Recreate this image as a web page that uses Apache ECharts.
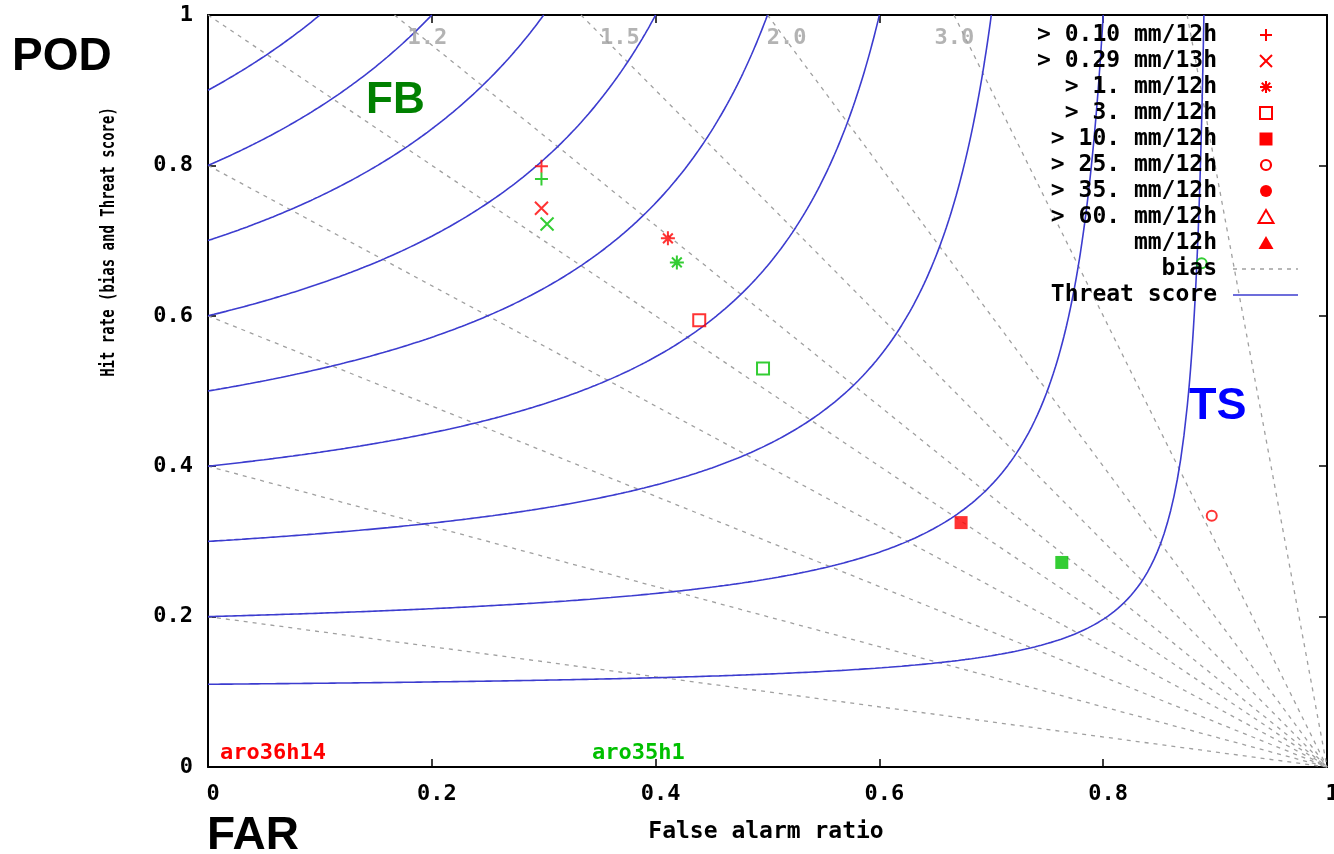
<!DOCTYPE html>
<html><head><meta charset="utf-8">
<script src="https://cdn.jsdelivr.net/npm/echarts@6/dist/echarts.min.js"></script>
<style>html,body{margin:0;padding:0;background:#fff;overflow:hidden;width:1334px;height:854px}#c{width:1334px;height:854px}</style>
</head><body><div id="c"></div>
<script>
// ---- data ----
const xTicks = ['0', '0.2', '0.4', '0.6', '0.8', '1'];
const yTicks = ['0', '0.2', '0.4', '0.6', '0.8', '1'];
const thresholdLabels = ['> 0.10 mm/12h', '> 0.29 mm/13h', '> 1. mm/12h', '> 3. mm/12h', '> 10. mm/12h', '> 25. mm/12h', '> 35. mm/12h', '> 60. mm/12h', 'mm/12h'];
const aro36h14FAR = [0.298, 0.298, 0.411, 0.439, 0.673, 0.897, null, null, null];
const aro36h14POD = [0.799, 0.743, 0.703, 0.594, 0.325, 0.334, null, null, null];
const aro35h1FAR = [0.298, 0.303, 0.419, 0.496, 0.763, 0.888, null, null, null];
const aro35h1POD = [0.782, 0.722, 0.671, 0.530, 0.272, 0.670, null, null, null];
const biasLevels = [0.2, 0.4, 0.6, 0.8, 1.0, 1.2, 1.5, 2.0, 3.0, 8.0];
const biasLabelText = ['1.2', '1.5', '2.0', '3.0'];
const biasLabelFAR = [0.196, 0.368, 0.517, 0.667];
const biasLabelPOD = [0.969, 0.969, 0.969, 0.969];
const tsLevels = [0.11, 0.2, 0.3, 0.4, 0.5, 0.6, 0.7, 0.8, 0.9];

// ---- styles ----
const RED = '#ff0000', GREEN = '#00c000', BLUE = '#3c3ccf', GRAY = '#a0a0a0';
const MONO = 'DejaVu Sans Mono';
const SANS = 'Liberation Sans';
const symbolKinds = ['plus', 'cross', 'star', 'orect', 'frect', 'ocirc', 'fcirc', 'otri', 'ftri'];
const symDef = {
  plus:  { symbol: 'path://M0,6H12M6,0V12', size: 13, fill: false },
  cross: { symbol: 'path://M0,0L12,12M12,0L0,12', size: 13, fill: false },
  star:  { symbol: 'path://M0,6H12M6,0V12M1.8,1.8L10.2,10.2M10.2,1.8L1.8,10.2', size: 14, fill: false },
  orect: { symbol: 'rect', size: 12, fill: false },
  frect: { symbol: 'rect', size: 13, fill: true },
  ocirc: { symbol: 'circle', size: 10, fill: false },
  fcirc: { symbol: 'circle', size: 11, fill: true },
  otri:  { symbol: 'triangle', size: 13, fill: false },
  ftri:  { symbol: 'triangle', size: 13, fill: true }
};

function modelData(fars, pods, color) {
  const out = [];
  for (let i = 0; i < fars.length; i++) {
    if (fars[i] == null) continue;
    const d = symDef[symbolKinds[i]];
    out.push({
      value: [fars[i], pods[i]],
      symbol: d.symbol, symbolSize: d.size,
      itemStyle: d.fill ? { color: color, borderColor: color, borderWidth: 0 }
                        : { color: 'none', borderColor: color, borderWidth: 2 }
    });
  }
  return out;
}

function tsCurve(ts) {
  const pts = [];
  const farMax = 1 - ts;
  for (let i = 0; i <= 300; i++) {
    const far = farMax * i / 300;
    const pod = 1 / (1 / ts + 1 - 1 / (1 - far));
    if (pod <= 1) pts.push([far, pod]);
  }
  for (let j = 0; j <= 200; j++) {
    const pod = 0.5 + 0.5 * j / 200;
    const D = 1 / ts + 1 - 1 / pod;
    if (D <= 0) continue;
    const far = 1 - 1 / D;
    if (far >= 0) pts.push([far, pod]);
  }
  pts.sort((a, b) => a[0] - b[0]);
  return pts;
}
function biasLine(b) {
  return b <= 1 ? [[0, b], [1, 0]] : [[1 - 1 / b, 1], [1, 0]];
}

const series = [];
biasLevels.forEach(b => series.push({
  type: 'line', data: biasLine(b), showSymbol: false, silent: true, animation: false,
  lineStyle: { color: GRAY, width: 1.3, type: [4, 5] }, z: 1
}));
tsLevels.forEach(t => series.push({
  type: 'line', data: tsCurve(t), showSymbol: false, silent: true, animation: false,
  lineStyle: { color: BLUE, width: 1.6 }, z: 2
}));
series.push({
  type: 'scatter', symbolSize: 0, silent: true, animation: false, z: 3,
  data: biasLabelFAR.map((f, i) => ({ value: [f, biasLabelPOD[i]], name: biasLabelText[i] })),
  label: { show: true, position: 'inside', formatter: p => p.name, color: GRAY,
           fontFamily: MONO, fontWeight: 'bold', fontSize: 22 }
});
series.push({ name: 'aro36h14', type: 'scatter', animation: false, z: 5, data: modelData(aro36h14FAR, aro36h14POD, RED) });
series.push({ name: 'aro35h1', type: 'scatter', animation: false, z: 5, data: modelData(aro35h1FAR, aro35h1POD, GREEN) });

// ---- legend (graphic) ----
const LX_TEXT = 1217, LX_SYM = 1266, LY0 = 35, LSTEP = 26;
const lg = [];
const lineEl = (x1, y1, x2, y2, c, w, dash) => ({ type: 'line', shape: { x1, y1, x2, y2 }, style: { stroke: c, lineWidth: w || 2, lineDash: dash || null }, z: 20 });
function legendSymbol(kind, x, y, c) {
  const s = 6;
  switch (kind) {
    case 'plus': return [lineEl(x - s, y, x + s, y, c), lineEl(x, y - s, x, y + s, c)];
    case 'cross': return [lineEl(x - s, y - s, x + s, y + s, c), lineEl(x + s, y - s, x - s, y + s, c)];
    case 'star': return [lineEl(x - s, y, x + s, y, c), lineEl(x, y - s, x, y + s, c), lineEl(x - 4.2, y - 4.2, x + 4.2, y + 4.2, c), lineEl(x + 4.2, y - 4.2, x - 4.2, y + 4.2, c)];
    case 'orect': return [{ type: 'rect', shape: { x: x - 6, y: y - 6, width: 12, height: 12 }, style: { fill: 'none', stroke: c, lineWidth: 2 }, z: 20 }];
    case 'frect': return [{ type: 'rect', shape: { x: x - 6.5, y: y - 6.5, width: 13, height: 13 }, style: { fill: c }, z: 20 }];
    case 'ocirc': return [{ type: 'circle', shape: { cx: x, cy: y, r: 5 }, style: { fill: 'none', stroke: c, lineWidth: 2.2 }, z: 20 }];
    case 'fcirc': return [{ type: 'circle', shape: { cx: x, cy: y, r: 6 }, style: { fill: c }, z: 20 }];
    case 'otri': return [{ type: 'polygon', shape: { points: [[x, y - 7], [x + 7.5, y + 6], [x - 7.5, y + 6]] }, style: { fill: 'none', stroke: c, lineWidth: 2 }, z: 20 }];
    case 'ftri': return [{ type: 'polygon', shape: { points: [[x, y - 7], [x + 7.5, y + 6], [x - 7.5, y + 6]] }, style: { fill: c }, z: 20 }];
  }
  return [];
}
const legendText = (t, y) => ({ type: 'text', x: LX_TEXT, y: y, z: 20, style: { text: t, fill: '#000', font: 'bold 23px "' + MONO + '"', textAlign: 'right', textVerticalAlign: 'middle' } });
thresholdLabels.forEach((t, i) => {
  const y = LY0 + i * LSTEP;
  lg.push(legendText(t, y));
  legendSymbol(symbolKinds[i], LX_SYM, y, RED).forEach(e => lg.push(e));
});
lg.push(legendText('bias', LY0 + 9 * LSTEP));
lg.push(lineEl(1233, LY0 + 9 * LSTEP, 1298, LY0 + 9 * LSTEP, GRAY, 1.3, [4, 5]));
lg.push(legendText('Threat score', LY0 + 10 * LSTEP));
lg.push(lineEl(1233, LY0 + 10 * LSTEP, 1298, LY0 + 10 * LSTEP, BLUE, 1.6));

const big = (t, x, y, c, size) => ({ type: 'text', x, y, z: 20, style: { text: t, fill: c, font: 'bold ' + size + 'px "' + SANS + '"', textAlign: 'left', textVerticalAlign: 'middle' } });
const graphics = lg.concat([
  big('POD', 12, 57, '#000', 46),
  big('FAR', 207, 836, '#000', 46),
  big('FB', 366, 101, '#008000', 44),
  big('TS', 1189, 407, '#0000ff', 45),
  { type: 'text', x: 220, y: 753, z: 20, style: { text: 'aro36h14', fill: RED, font: 'bold 22px "' + MONO + '"', textVerticalAlign: 'middle' } },
  { type: 'text', x: 592, y: 753, z: 20, style: { text: 'aro35h1', fill: GREEN, font: 'bold 22px "' + MONO + '"', textVerticalAlign: 'middle' } },
  { type: 'text', x: 766, y: 832, z: 20, style: { text: 'False alarm ratio', fill: '#000', font: 'bold 23px "' + MONO + '"', textAlign: 'center', textVerticalAlign: 'middle' } },
  { type: 'text', x: 109, y: 242, rotation: Math.PI / 2, scaleY: 1.4, z: 20, style: { text: 'Hit rate (bias and Threat score)', fill: '#000', font: 'bold 14px "' + MONO + '"', textAlign: 'center', textVerticalAlign: 'middle' } }
]);

const axisBase = {
  type: 'value', min: 0, max: 1, interval: 0.2,
  axisLine: { show: true, onZero: false, lineStyle: { color: '#000', width: 2 } },
  axisTick: { show: true, inside: true, length: 8, lineStyle: { color: '#000', width: 1.5 } },
  splitLine: { show: false }
};
const labelStyle = { color: '#000', fontFamily: MONO, fontWeight: 'bold', fontSize: 22 };

const option = {
  backgroundColor: '#fff',
  animation: false,
  grid: { left: 208, top: 15, width: 1119, height: 752, containLabel: false, outerBoundsMode: 'none' },
  xAxis: [
    Object.assign({}, axisBase, { position: 'bottom', axisLabel: Object.assign({ margin: 16, padding: [0, 0, 0, 10], formatter: (v) => xTicks[Math.round(v * 5)] }, labelStyle) }),
    Object.assign({}, axisBase, { position: 'top', axisLabel: { show: false } })
  ],
  yAxis: [
    Object.assign({}, axisBase, { position: 'left', axisLabel: Object.assign({ margin: 15, formatter: (v) => yTicks[Math.round(v * 5)] }, labelStyle) }),
    Object.assign({}, axisBase, { position: 'right', axisLabel: { show: false } })
  ],
  graphic: graphics,
  series: series
};
const chart = echarts.init(document.getElementById('c'), null, { renderer: 'canvas' });
chart.setOption(option);
</script></body></html>
